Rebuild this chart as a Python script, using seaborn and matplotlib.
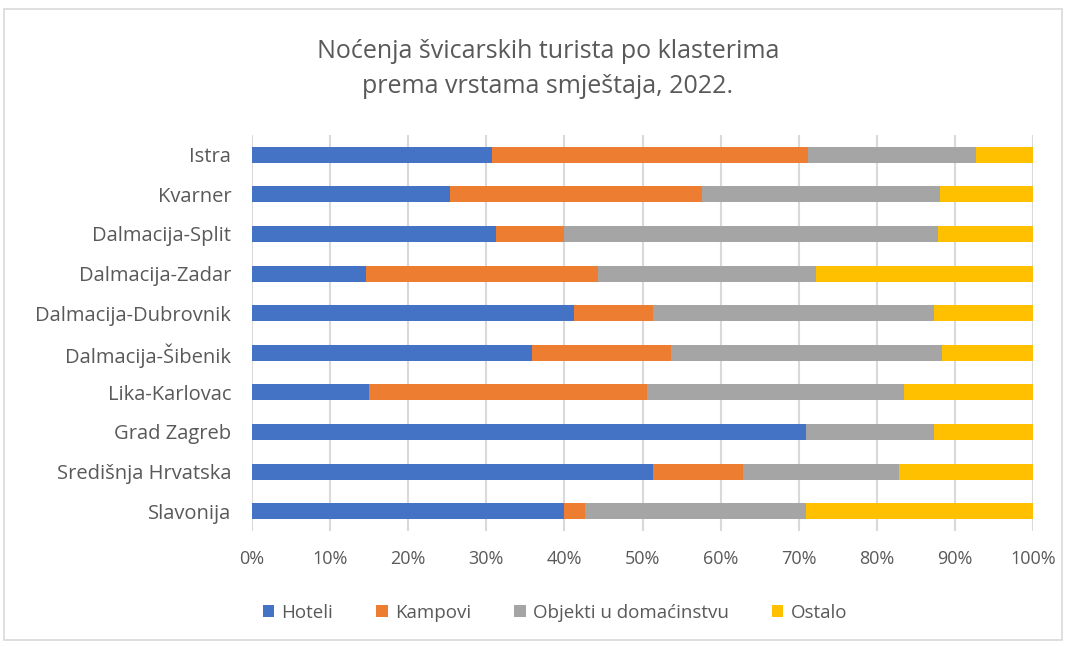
import pandas as pd
import matplotlib.pyplot as plt
import seaborn as sns
from matplotlib.patches import Rectangle, Patch

# data (shares, %)
clusters = ['Istra', 'Kvarner', 'Dalmacija-Split', 'Dalmacija-Zadar', 'Dalmacija-Dubrovnik',
            'Dalmacija-Šibenik', 'Lika-Karlovac', 'Grad Zagreb', 'Središnja Hrvatska', 'Slavonija']
hoteli = [30.7, 25.4, 31.2, 14.6, 41.2, 35.8, 15.0, 70.9, 51.4, 39.9]
kampovi = [40.5, 32.2, 8.7, 29.7, 10.2, 17.9, 35.6, 0.0, 11.5, 2.8]
objekti = [21.5, 30.5, 47.9, 27.9, 35.9, 34.6, 32.9, 16.4, 20.0, 28.2]
ostalo = [7.3, 11.9, 12.2, 27.8, 12.7, 11.7, 16.5, 12.7, 17.1, 29.1]

series_names = ['Hoteli', 'Kampovi', 'Objekti u domaćinstvu', 'Ostalo']
colors = ['#4472C4', '#ED7D31', '#A5A5A5', '#FFC000']

df = pd.DataFrame({'cluster': clusters, 'Hoteli': hoteli, 'Kampovi': kampovi,
                   'Objekti u domaćinstvu': objekti, 'Ostalo': ostalo})
tot = df[series_names].sum(axis=1)
for s in series_names:
    df[s] = df[s] / tot  # normalise to 100%

# cumulative shares, drawn from the widest down so the stack shows
cum = df[series_names].cumsum(axis=1)
cum['cluster'] = df['cluster']

sns.set_style('white')
plt.rcParams['font.family'] = ['Open Sans', 'DejaVu Sans']
txt = '#595959'

fig = plt.figure(figsize=(10.74, 6.46), dpi=100)
ax = fig.add_axes([252 / 1074, 1 - 531 / 646, (1033 - 252) / 1074, (531 - 135) / 646])

for s, c in reversed(list(zip(series_names, colors))):
    sns.barplot(data=cum, x=s, y='cluster', orient='h', color=c, width=0.4,
                saturation=1, linewidth=0, ax=ax, zorder=3)

ax.set_xlim(0, 1)
ax.set_xticks([i / 10 for i in range(11)])
ax.set_xticklabels([f'{i * 10}%' for i in range(11)])
ax.xaxis.grid(True, color='#D9D9D9', linewidth=1.5, zorder=0)
ax.set_axisbelow(True)
for sp in ax.spines.values():
    sp.set_visible(False)
ax.set_xlabel('')
ax.set_ylabel('')
ax.tick_params(axis='y', length=0, pad=15, labelsize=14.5, labelcolor=txt)
ax.tick_params(axis='x', length=0, pad=14, labelsize=13, labelcolor=txt)

fig.text(548 / 1074, 1 - 69 / 646, 'Noćenja švicarskih turista po klasterima\nprema vrstama smještaja, 2022.',
         ha='center', va='center', fontsize=18, color=txt, linespacing=1.55)

handles = [Patch(facecolor=c, edgecolor='none', label=s) for s, c in zip(series_names, colors)]
fig.legend(handles=handles, loc='center', bbox_to_anchor=(555 / 1074, 1 - 613 / 646), ncol=4,
           frameon=False, fontsize=13.5, handlelength=0.6, handleheight=0.6, handletextpad=0.4,
           columnspacing=2.3, labelcolor=txt)

# outer chart border
fig.patches.append(Rectangle((4 / 1074, 1 - 640 / 646), 1058 / 1074, 631 / 646,
                             transform=fig.transFigure, fill=False, edgecolor='#D9D9D9', linewidth=1.2))

plt.savefig('out.png', dpi=100)
